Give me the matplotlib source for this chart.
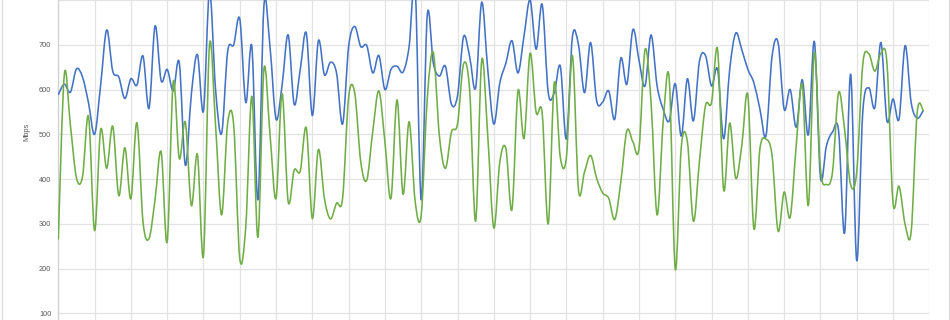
import numpy as np
import matplotlib
matplotlib.use("Agg")
import matplotlib.pyplot as plt
from matplotlib.path import Path
from matplotlib.patches import PathPatch
from matplotlib.lines import Line2D

blue_values = [
    589, 612, 594, 646, 628, 570, 500, 610, 733, 641,
    628, 580, 624, 610, 675, 558, 742, 620, 645, 597,
    660, 431, 590, 678, 552, 820, 600, 502, 685, 700,
    758, 571, 696, 354, 788, 695, 534, 610, 722, 567,
    645, 726, 542, 709, 633, 661, 637, 523, 696, 741,
    696, 698, 637, 676, 600, 645, 652, 639, 696, 830,
    354, 766, 659, 630, 652, 567, 586, 718, 674, 604,
    795, 645, 523, 615, 659, 709, 637, 720, 800, 690,
    790, 593, 593, 652, 490, 718, 700, 593, 705, 575,
    572, 597, 534, 670, 612, 734, 666, 608, 722, 608,
    556, 530, 613, 496, 624, 530, 663, 676, 608, 645,
    490, 645, 726, 689, 645, 615, 556, 497, 674, 705,
    556, 600, 516, 622, 499, 707, 405, 475, 505, 508,
    280, 634, 218, 549, 604, 560, 705, 530, 579, 534,
    698, 571, 536, 553,
]

green_values = [
    266, 634, 520, 403, 405, 540, 285, 510, 424, 518,
    363, 470, 356, 526, 305, 267, 355, 461, 260, 617,
    446, 527, 341, 455, 229, 700, 520, 320, 525, 520,
    223, 295, 585, 270, 646, 500, 357, 591, 350, 420,
    418, 514, 312, 466, 356, 311, 346, 357, 583, 593,
    439, 398, 508, 597, 483, 357, 577, 366, 528, 350,
    320, 580, 683, 497, 424, 505, 523, 657, 600, 306,
    665, 497, 291, 439, 468, 332, 597, 491, 681, 549,
    547, 300, 615, 448, 448, 676, 376, 416, 453, 402,
    369, 357, 310, 394, 508, 483, 468, 689, 571, 320,
    527, 624, 199, 472, 484, 306, 440, 564, 571, 689,
    376, 525, 402, 475, 587, 289, 468, 489, 453, 284,
    371, 315, 475, 611, 341, 683, 424, 388, 416, 593,
    510, 387, 416, 656, 680, 641, 681, 659, 347, 384,
    299, 282, 549, 553,
]

y_ticks = [100, 200, 300, 400, 500, 600, 700]
y_label = "Mbps"

BLUE = "#4472C4"
GREEN = "#70AD47"
GRID = "#e3e3e3"
TEXT = "#595959"

W, H = 950, 320
fig = plt.figure(figsize=(W / 100, H / 100), dpi=100)
fig.patch.set_facecolor("white")

x0, x1 = 58.3, 929.3
ax = fig.add_axes([x0 / W, 0, (x1 - x0) / W, 1])
ax.set_facecolor("white")

n = len(blue_values)
xs = np.arange(n)
ax.set_xlim(0, 144)
ax.set_ylim(85.2, 791.9)


def smooth_path(x, y):
    pts = np.column_stack([x, y]).astype(float)
    verts = [pts[0]]
    codes = [Path.MOVETO]
    m = len(pts)
    for i in range(m - 1):
        p0 = pts[i - 1] if i > 0 else pts[i]
        p1 = pts[i]
        p2 = pts[i + 1]
        p3 = pts[i + 2] if i + 2 < m else pts[i + 1]
        c1 = p1 + (p2 - p0) / 6.0
        c2 = p2 - (p3 - p1) / 6.0
        verts += [c1, c2, p2]
        codes += [Path.CURVE4] * 3
    return Path(verts, codes)


for vals, col in [(blue_values, BLUE), (green_values, GREEN)]:
    patch = PathPatch(smooth_path(xs, vals), facecolor="none", edgecolor=col,
                      lw=1.15, transform=ax.transData, zorder=3, clip_on=True,
                      capstyle="round", joinstyle="round")
    ax.add_patch(patch)

ax.set_yticks(y_ticks)
ax.set_yticks([800], minor=True)
ax.set_xticks(np.arange(0, 145, 6))
ax.set_xticklabels([])
ax.grid(True, which="both", color=GRID, lw=0.9, zorder=0)
ax.tick_params(axis="both", which="both", length=0)
ax.tick_params(axis="y", pad=5, labelsize=5.3, labelcolor=TEXT)
for lab in ax.get_yticklabels():
    lab.set_fontfamily(["Liberation Sans", "DejaVu Sans"])
for side in ["top", "right", "bottom"]:
    ax.spines[side].set_visible(False)
ax.spines["left"].set_color("#d0d0d0")
ax.spines["left"].set_linewidth(0.9)

fig.text(27 / W, 1 - 132 / H, y_label, rotation=90, ha="center", va="center",
         fontsize=5.3, color=TEXT, family=["Liberation Sans", "DejaVu Sans"])

# outer chart border lines
fig.add_artist(Line2D([1.5 / W, 1.5 / W], [0, 1], color="#dcdcdc", lw=0.9))
fig.add_artist(Line2D([949 / W, 949 / W], [0, 1], color="#dcdcdc", lw=0.9))

fig.savefig("out.png", dpi=100, facecolor="white")
